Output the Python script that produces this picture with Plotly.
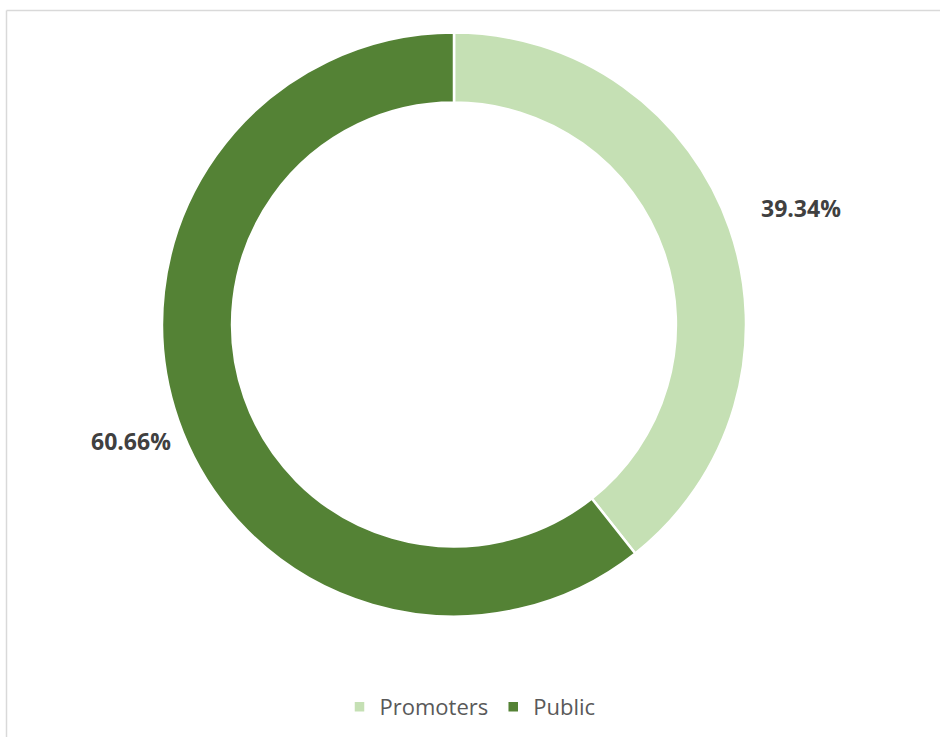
import math
import plotly.graph_objects as go

# datos del gráfico
categorias = ["Promoters", "Public"]
porcentajes = [39.34, 60.66]
colores = ["#C5E0B4", "#548235"]

W, H = 940, 737
# geometría del anillo (en píxeles)
cx, cy, radio = 454, 324.5, 292
# centro y radio usados para colocar las etiquetas (como en Excel, algo desplazadas)
cx_etq, radio_etiqueta = cx + 12, 355

fig = go.Figure()

fig.add_trace(go.Pie(
    labels=categorias,
    values=porcentajes,
    hole=0.76,
    sort=False,
    direction="clockwise",
    rotation=0,
    marker=dict(colors=colores, line=dict(color="white", width=2.5)),
    textinfo="none",
    domain=dict(x=[(cx - radio) / W, (cx + radio) / W],
                y=[1 - (cy + radio) / H, 1 - (cy - radio) / H]),
    hoverinfo="label+percent",
))

# etiquetas de porcentaje fuera del anillo, en el ángulo medio de cada porción
total = sum(porcentajes)
acumulado = 0
for cat, val in zip(categorias, porcentajes):
    medio = (acumulado + val / 2) / total * 2 * math.pi
    acumulado += val
    px_ = cx_etq + radio_etiqueta * math.sin(medio)
    py_ = cy - radio_etiqueta * math.cos(medio)
    fig.add_annotation(
        x=px_ / W, y=1 - py_ / H, xref="paper", yref="paper",
        text=f"<b>{val:.2f}%</b>", showarrow=False,
        xanchor="center", yanchor="middle",
        font=dict(family="Open Sans", size=23, color="#404040"),
    )

# borde del área del gráfico
fig.add_shape(type="line", xref="paper", yref="paper",
              x0=6.5 / W, x1=6.5 / W, y0=0, y1=1 - 10.5 / H,
              line=dict(color="#D9D9D9", width=1.5))
fig.add_shape(type="line", xref="paper", yref="paper",
              x0=6.5 / W, x1=1, y0=1 - 10.5 / H, y1=1 - 10.5 / H,
              line=dict(color="#D9D9D9", width=1.5))

fig.update_layout(
    width=W,
    height=H,
    margin=dict(l=0, r=0, t=0, b=0),
    paper_bgcolor="white",
    plot_bgcolor="white",
    showlegend=True,
    legend=dict(
        orientation="h",
        x=0.5, xanchor="center",
        y=1 - 707 / H, yanchor="middle",
        font=dict(family="Open Sans", size=22, color="#595959"),
        itemwidth=30,
    ),
)

fig.write_html("out.html", config={"displayModeBar": False},
               post_script="document.body.style.margin='0';")
